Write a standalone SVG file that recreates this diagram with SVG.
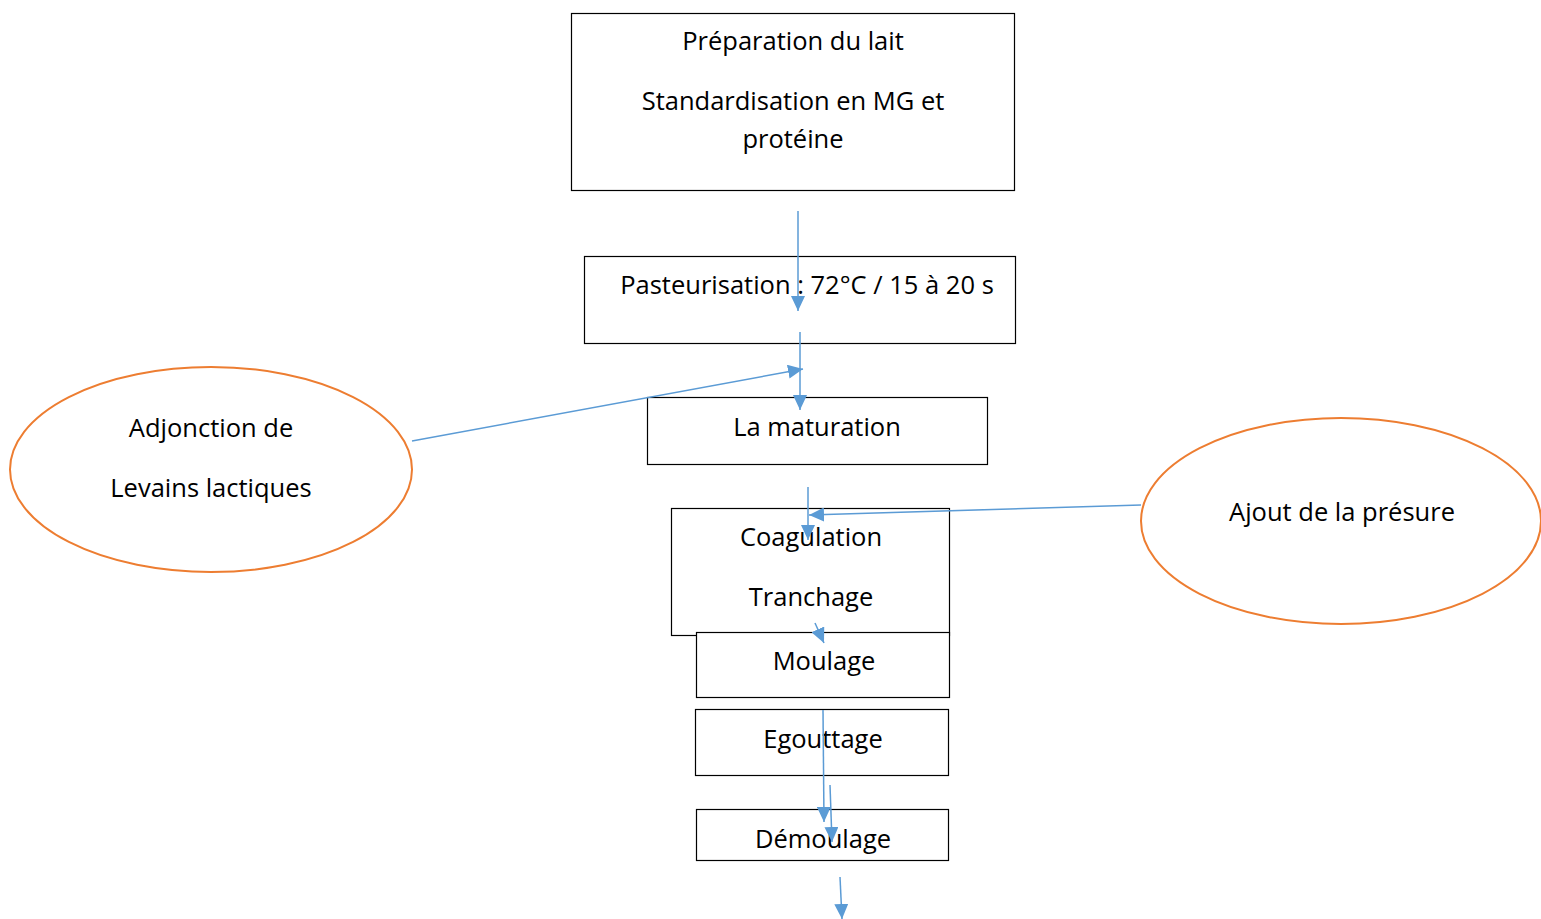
<svg xmlns="http://www.w3.org/2000/svg" width="1541" height="919" viewBox="0 0 1541 919">
<style>
.box{fill:#fff;stroke:#000;stroke-width:1.2}
.ell{fill:none;stroke:#ED7D31;stroke-width:2}
.t{font-family:"Open Sans","Liberation Sans",sans-serif;font-size:25.5px;fill:#000;text-anchor:middle}
.c{stroke:#5B9BD5;stroke-width:1.5;fill:none;marker-end:url(#ah)}
</style>
<defs>
<marker id="ah" markerUnits="userSpaceOnUse" markerWidth="16" markerHeight="14" refX="15" refY="7" orient="auto">
<path d="M0,0 L15,7 L0,14 Z" fill="#5B9BD5"/>
</marker>
</defs>
<rect width="1541" height="919" fill="#fff"/>
<g id="n1"><rect class="box" x="571.5" y="13.5" width="443" height="177"/>
<text class="t" x="793" y="50">Préparation du lait</text>
<text class="t" x="793" y="110">Standardisation en MG et</text>
<text class="t" x="793" y="148">protéine</text></g>
<g id="n2"><rect class="box" x="584.5" y="256.5" width="431" height="87"/>
<text class="t" x="807" y="294">Pasteurisation : 72°C / 15 à 20 s</text></g>
<g id="n3"><rect class="box" x="647.5" y="397.5" width="340" height="67"/>
<text class="t" x="817" y="436">La maturation</text></g>
<g id="n4"><rect class="box" x="671.5" y="508.5" width="278" height="127"/>
<text class="t" x="811" y="546">Coagulation</text>
<text class="t" x="811" y="606">Tranchage</text></g>
<g id="n5"><rect class="box" x="696.5" y="632.5" width="253" height="65"/>
<text class="t" x="824" y="670">Moulage</text></g>
<g id="n6"><rect class="box" x="695.5" y="709.5" width="253" height="66"/>
<text class="t" x="823" y="748">Egouttage</text></g>
<g id="n7"><rect class="box" x="696.5" y="809.5" width="252" height="51"/>
<text class="t" x="823" y="848">Démoulage</text></g>
<g id="e1"><ellipse class="ell" cx="211" cy="469.5" rx="201" ry="102.5"/>
<text class="t" x="211" y="437">Adjonction de</text>
<text class="t" x="211" y="497">Levains lactiques</text></g>
<g id="e2"><ellipse class="ell" cx="1341" cy="521" rx="200" ry="103"/>
<text class="t" x="1342" y="521">Ajout de la présure</text></g>
<g id="connectors">
<line class="c" x1="798" y1="211" x2="798" y2="311"/>
<line class="c" x1="800" y1="332" x2="800" y2="410"/>
<line class="c" x1="412" y1="441" x2="803" y2="369"/>
<line class="c" x1="808" y1="487" x2="808" y2="540"/>
<line class="c" x1="1141" y1="505" x2="809" y2="515"/>
<line class="c" x1="815" y1="623" x2="824" y2="643"/>
<line class="c" x1="823" y1="710" x2="824" y2="822"/>
<line class="c" x1="830" y1="785" x2="832" y2="842"/>
<line class="c" x1="840" y1="877" x2="842" y2="919"/>
</g>
</svg>
